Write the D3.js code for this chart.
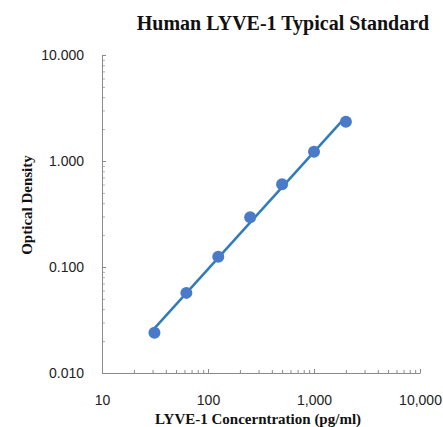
<!DOCTYPE html>
<html>
<head>
<meta charset="utf-8">
<script src="https://cdn.jsdelivr.net/npm/d3@7"></script>
<style>
  html, body { margin: 0; padding: 0; background: #fff; }
  svg { display: block; }
</style>
</head>
<body>
<svg id="chart" width="443" height="427"></svg>
<script>
// ---- data ----
const concentrations = [31.25, 62.5, 125, 250, 500, 1000, 2000];
const opticalDensity = [0.024, 0.057, 0.125, 0.295, 0.605, 1.225, 2.35];
const xTicks = [10, 100, 1000, 10000];
const yTicks = [0.01, 0.1, 1, 10];
const titleText = "Human LYVE-1 Typical Standard";
const xLabelText = "LYVE-1 Concerntration (pg/ml)";
const yLabelText = "Optical Density";

// ---- layout ----
const svg = d3.select("#chart");
const plotLeft = 102, plotRight = 420, plotTop = 55, plotBottom = 373;
const axisColor = "#8a8a8a";

const x = d3.scaleLog().domain([10, 10000]).range([plotLeft, plotRight]);
const y = d3.scaleLog().domain([0.01, 10]).range([plotBottom, plotTop]);

function minorValues(domain) {
  const out = [];
  for (let d = domain[0]; d < domain[1] * 0.999; d *= 10) {
    for (let k = 2; k <= 9; k++) out.push(d * k);
  }
  return out;
}

// minor ticks
const yMinor = svg.append("g").attr("transform", `translate(${plotLeft},0)`)
  .call(d3.axisLeft(y).tickValues(minorValues(y.domain())).tickSize(-3).tickFormat(""));
yMinor.select(".domain").remove();
yMinor.selectAll("line").attr("stroke", "#b0b0b0");

const xMinor = svg.append("g").attr("transform", `translate(0,${plotBottom})`)
  .call(d3.axisBottom(x).tickValues(minorValues(x.domain())).tickSize(-3).tickFormat(""));
xMinor.select(".domain").remove();
xMinor.selectAll("line").attr("stroke", axisColor);

// major axes
const yAxis = svg.append("g").attr("transform", `translate(${plotLeft},0)`)
  .call(d3.axisLeft(y).tickValues(yTicks).tickSizeInner(-4).tickSizeOuter(0)
    .tickPadding(18).tickFormat(d3.format(".3f")));
yAxis.select(".domain").attr("stroke", axisColor);
yAxis.selectAll("line").attr("stroke", axisColor);
yAxis.selectAll("text").attr("fill", "#222")
  .style("font-family", "'Liberation Sans', Arial, sans-serif").style("font-size", "14px");

const xAxis = svg.append("g").attr("transform", `translate(0,${plotBottom})`)
  .call(d3.axisBottom(x).tickValues(xTicks).tickSizeInner(-4).tickSizeOuter(0)
    .tickPadding(22).tickFormat(d3.format(",")));
xAxis.select(".domain").attr("stroke", axisColor);
xAxis.selectAll("line").attr("stroke", axisColor);
xAxis.selectAll("text").attr("fill", "#222")
  .style("font-family", "'Liberation Sans', Arial, sans-serif").style("font-size", "14px");

// ---- power trendline (least squares in log-log space) ----
const lx = concentrations.map(Math.log10), ly = opticalDensity.map(Math.log10);
const mx = d3.mean(lx), my = d3.mean(ly);
const slope = d3.sum(lx.map((v, i) => (v - mx) * (ly[i] - my))) / d3.sum(lx.map(v => (v - mx) ** 2));
const icpt = my - slope * mx;
const ends = [concentrations[0], concentrations[concentrations.length - 1]];
svg.append("path")
  .datum(ends)
  .attr("fill", "none")
  .attr("stroke", "#2f7cba")
  .attr("stroke-width", 2.5)
  .attr("d", d3.line().x(d => x(d)).y(d => y(Math.pow(10, icpt + slope * Math.log10(d)))));

// ---- points ----
svg.append("g").selectAll("circle")
  .data(concentrations.map((c, i) => ({ c, od: opticalDensity[i] })))
  .join("circle")
  .attr("cx", d => x(d.c))
  .attr("cy", d => y(d.od))
  .attr("r", 6)
  .attr("fill", "#4a7bc8");

// ---- titles ----
svg.append("text")
  .attr("x", 283).attr("y", 30)
  .attr("text-anchor", "middle")
  .style("font-family", "'Liberation Serif', 'Times New Roman', serif")
  .style("font-weight", "bold").style("font-size", "20px").attr("fill", "#111")
  .text(titleText);

svg.append("text")
  .attr("x", 258).attr("y", 424)
  .attr("text-anchor", "middle")
  .style("font-family", "'Liberation Serif', 'Times New Roman', serif")
  .style("font-weight", "bold").style("font-size", "15px").attr("fill", "#111")
  .text(xLabelText);

svg.append("text")
  .attr("transform", "translate(32,205) rotate(-90)")
  .attr("text-anchor", "middle")
  .style("font-family", "'Liberation Serif', 'Times New Roman', serif")
  .style("font-weight", "bold").style("font-size", "15px").attr("fill", "#111")
  .text(yLabelText);
</script>
</body>
</html>
